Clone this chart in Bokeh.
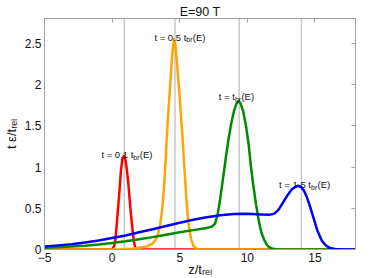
from bokeh.plotting import figure
from bokeh.models import Span, Label, LinearAxis, FixedTicker, CustomJSTickFormatter, Range1d
from bokeh.embed import file_html
from bokeh.resources import INLINE

# ---- data ----
z_red = [-5.0, 0.0, 0.15, 0.25, 0.35, 0.45, 0.55, 0.65, 0.75, 0.88, 1.0, 1.1, 1.2, 1.3, 1.4, 1.5, 1.6, 1.7, 1.8, 1.95, 18.0]
v_red = [0.0, 0.0, 0.04, 0.13, 0.32, 0.52, 0.72, 0.95, 1.09, 1.135, 1.08, 0.95, 0.8, 0.6, 0.42, 0.25, 0.11, 0.03, 0.005, 0.0, 0.0]

z_orange = [-5.0, 0.5, 1.0, 1.5, 2.0, 2.5, 2.8, 3.0, 3.2, 3.4, 3.55, 3.7, 3.85, 3.95, 4.05, 4.15, 4.25, 4.4, 4.5, 4.58,
            4.68, 4.8, 4.9, 5.0, 5.1, 5.2, 5.3, 5.4, 5.5, 5.6, 5.7, 5.85, 6.0, 6.2, 6.4, 18.0]
v_orange = [0.0, 0.0, 0.005, 0.01, 0.02, 0.035, 0.055, 0.075, 0.11, 0.19, 0.3, 0.48, 0.78, 1.05, 1.38, 1.65, 1.88, 2.26, 2.45, 2.55,
            2.48, 2.25, 2.05, 1.85, 1.6, 1.38, 1.1, 0.85, 0.6, 0.4, 0.26, 0.12, 0.05, 0.015, 0.0, 0.0]

z_green = [-5.0, -4.0, -3.0, -2.0, -1.0, 0.0, 1.0, 2.0, 3.0, 4.0, 5.0, 6.0, 7.0, 7.4, 7.6, 7.8, 8.0, 8.2, 8.4, 8.6, 8.8,
           9.0, 9.2, 9.36, 9.5, 9.7, 9.9, 10.1, 10.27, 10.45, 10.64, 10.88, 11.05, 11.25, 11.45, 11.62, 11.9, 12.3, 18.0]
v_green = [0.02, 0.027, 0.035, 0.045, 0.06, 0.08, 0.1, 0.125, 0.15, 0.18, 0.21, 0.235, 0.26, 0.28, 0.31, 0.42, 0.62, 0.86, 1.1, 1.33, 1.52,
           1.67, 1.77, 1.80, 1.77, 1.67, 1.5, 1.27, 1.0, 0.77, 0.55, 0.32, 0.2, 0.115, 0.055, 0.027, 0.008, 0.0, 0.0]

z_blue = [-5.0, -4.0, -3.0, -2.0, -1.0, 0.0, 1.0, 2.0, 3.0, 4.0, 5.0, 6.0, 7.0, 8.0, 9.0, 10.0, 11.0, 11.6, 12.0, 12.3,
          12.6, 13.0, 13.3, 13.6, 13.8, 14.0, 14.2, 14.4, 14.6, 14.9, 15.2, 15.5, 15.8, 16.1, 16.5, 17.0, 18.0]
v_blue = [0.035, 0.05, 0.065, 0.085, 0.11, 0.14, 0.17, 0.21, 0.245, 0.285, 0.325, 0.36, 0.39, 0.415, 0.43, 0.432, 0.425, 0.42, 0.435, 0.48,
          0.56, 0.665, 0.73, 0.765, 0.772, 0.755, 0.71, 0.635, 0.54, 0.38, 0.22, 0.11, 0.05, 0.02, 0.005, 0.0, 0.0]

peak_lines = [0.9, 4.65, 9.4, 14.0]

ann_text = ["t = 0.1 t", "t = 0.5 t", "t = t", "t = 1.5 t"]
ann_z = [1.57, 5.49, 9.08, 14.71]
ann_v = [1.15, 2.575, 1.85, 0.785]

x_ticks = [-5, 0, 5, 10, 15]
y_ticks = [0, 0.5, 1, 1.5, 2, 2.5]
y_tick_labels = ["0", "0.5", "1", "1.5", "2", "2.5"]

title_text = "E=90 T"
x_label = "z/t\u1d63\u2091\u2097"
y_label = "t \u03b5/t\u1d63\u2091\u2097"

FONT = "Liberation Sans"
FRAME_GRAY = "#a0a0a0"
TXT = "#111111"

p = figure(frame_width=311, frame_height=231, x_range=Range1d(-5, 18), y_range=Range1d(0, 2.8),
           output_backend="svg", toolbar_location=None,
           min_border_left=44, min_border_right=16, min_border_top=18, min_border_bottom=29)
p.grid.visible = False
p.outline_line_color = FRAME_GRAY
p.background_fill_color = "white"
p.border_fill_color = "white"

for loc in peak_lines:
    p.add_layout(Span(location=loc, dimension="height", line_color="#c8c8c8", line_width=1.5, level="underlay"))

for zs, vs, col in [(z_red, v_red, "#ff0000"), (z_orange, v_orange, "#ffa500"),
                    (z_green, v_green, "#008a00"), (z_blue, v_blue, "#0000ff")]:
    p.line(zs, vs, line_color=col, line_width=2.5, line_join="round")

xa = p.xaxis[0]
xa.ticker = FixedTicker(ticks=x_ticks)
ya = p.yaxis[0]
ya.ticker = FixedTicker(ticks=y_ticks)
ya.major_label_overrides = {float(t): s for t, s in zip(y_ticks, y_tick_labels)}
for ax in (xa, ya):
    ax.axis_line_color = FRAME_GRAY
    ax.major_tick_in = 0
    ax.major_tick_out = 0
    ax.minor_tick_line_color = None
    ax.major_label_text_font = FONT
    ax.major_label_text_font_size = "12px"
    ax.major_label_text_color = TXT
    ax.major_label_standoff = 3
    ax.axis_label_text_font = FONT
    ax.axis_label_text_font_size = "13px"
    ax.axis_label_text_font_style = "normal"
    ax.axis_label_text_color = TXT
xa.axis_label = x_label
xa.axis_label_standoff = -3
ya.axis_label = y_label
ya.axis_label_standoff = 3

top = LinearAxis(ticker=FixedTicker(ticks=x_ticks), formatter=CustomJSTickFormatter(code="return ''"))
right = LinearAxis(ticker=FixedTicker(ticks=y_ticks), formatter=CustomJSTickFormatter(code="return ''"))
for ax in (top, right):
    ax.axis_line_color = FRAME_GRAY
    ax.major_tick_line_color = FRAME_GRAY
    ax.major_tick_in = 4
    ax.major_tick_out = 0
    ax.minor_tick_line_color = None
    ax.major_label_standoff = 0
top.axis_label = title_text
top.axis_label_text_font = FONT
top.axis_label_text_font_size = "12.5px"
top.axis_label_text_font_style = "normal"
top.axis_label_text_color = TXT
top.axis_label_standoff = 0
p.add_layout(top, "above")
p.add_layout(right, "right")

# annotations with subscript
for t, zz, vv in zip(ann_text, ann_z, ann_v):
    p.add_layout(Label(x=zz, y=vv, text=t, text_align="right", text_baseline="alphabetic",
                       text_font=FONT, text_font_size="9.5px", text_color=TXT))
    p.add_layout(Label(x=zz, y=vv, y_offset=-2.5, text="br", text_align="left", text_baseline="alphabetic",
                       text_font=FONT, text_font_size="7px", text_color=TXT))
    p.add_layout(Label(x=zz, y=vv, x_offset=6.5, text="(E)", text_align="left", text_baseline="alphabetic",
                       text_font=FONT, text_font_size="9.5px", text_color=TXT))

open("out.html", "w").write(file_html(p, INLINE))
